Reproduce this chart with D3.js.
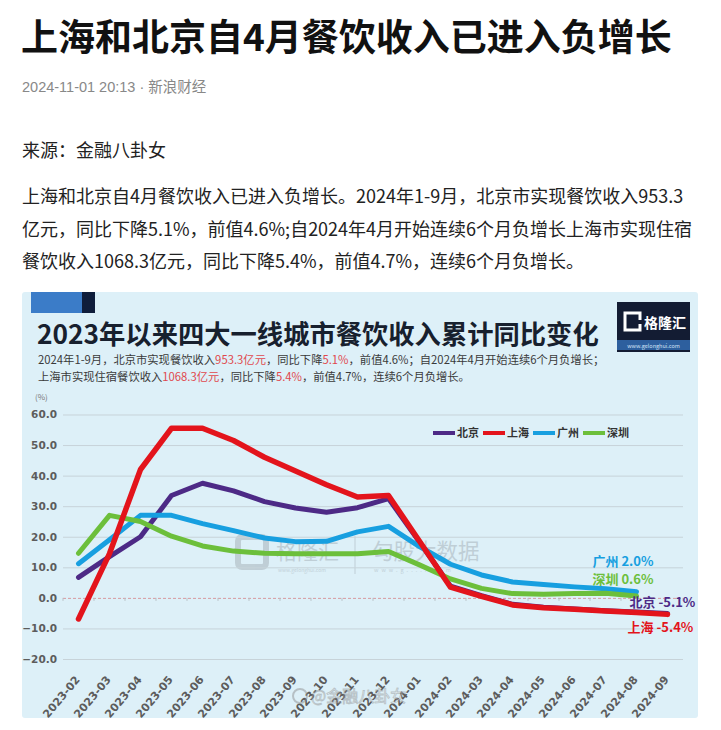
<!DOCTYPE html>
<html>
<head>
<meta charset="utf-8">
<script src="https://cdn.jsdelivr.net/npm/d3@7"></script>
<style>
  html, body { margin: 0; padding: 0; background: #fff; }
  svg { display: block; }
  text { font-family: "Noto Sans CJK SC", "Noto Sans", sans-serif; }
</style>
</head>
<body>
<svg id="page" width="721" height="730"></svg>
<script>
// ---------------- DATA ----------------
const months = ["2023-02","2023-03","2023-04","2023-05","2023-06","2023-07","2023-08","2023-09","2023-10","2023-11","2023-12",
                "2024-01","2024-02","2024-03","2024-04","2024-05","2024-06","2024-07","2024-08","2024-09"];
const seriesNames = ["北京","上海","广州","深圳"];
const beijing   = [6.7, 13.5, 20.0, 33.5, 37.5, 35.0, 31.5, 29.4, 28.0, 29.5, 32.5, 18.3, 3.8, 0.7, -2.1, -3.1, -3.6, -4.2, -4.6, -5.1];
const shanghai  = [-6.9, 14.5, 42.0, 55.5, 55.5, 51.5, 46.0, 41.5, 37.0, 33.0, 33.5, 18.5, 3.5, 0.5, -2.3, -3.2, -3.7, -4.3, -4.8, -5.4];
const guangzhou = [11.2, 19.0, 27.0, 27.0, 24.3, 22.0, 19.6, 18.4, 18.5, 21.6, 23.4, 16.8, 11.0, 7.5, 5.2, 4.4, 3.6, 3.0, 2.0];
const shenzhen  = [14.6, 27.0, 25.0, 20.2, 17.0, 15.3, 14.6, 14.4, 14.4, 14.4, 15.2, 10.8, 6.2, 3.1, 1.4, 1.2, 1.4, 1.5, 0.6];
const yTicks = [-20, -10, 0, 10, 20, 30, 40, 50, 60];
const endLabels = ["北京 -5.1%", "上海 -5.4%", "广州 2.0%", "深圳 0.6%"];

const pageTitle = "上海和北京自4月餐饮收入已进入负增长";
const pageMeta = "2024-11-01 20:13 · 新浪财经";
const pageSource = "来源：金融八卦女";
const paragraphLines = [
  "上海和北京自4月餐饮收入已进入负增长。2024年1-9月，北京市实现餐饮收入953.3",
  "亿元，同比下降5.1%，前值4.6%;自2024年4月开始连续6个月负增长上海市实现住宿",
  "餐饮收入1068.3亿元，同比下降5.4%，前值4.7%，连续6个月负增长。"
];
const chartTitle = "2023年以来四大一线城市餐饮收入累计同比变化";
const subtitle1 = [["2024年1-9月，北京市实现餐饮收入",0],["953.3亿元",1],["，同比下降",0],["5.1%",1],["，前值4.6%；自2024年4月开始连续6个月负增长；",0]];
const subtitle2 = [["上海市实现住宿餐饮收入",0],["1068.3亿元",1],["，同比下降",0],["5.4%",1],["，前值4.7%，连续6个月负增长。",0]];

// ---------------- STYLE / LAYOUT ----------------
const colors = ["#4d2a86", "#e3141c", "#179fe0", "#6cbf3b"];
const widths = [5, 5.5, 5, 5];
const drawOrder = [0, 2, 3, 1];
const labelOffsets = [[-38, -6], [-40, 18], [-44, -26], [-44, -12]];
const plot = {left: 63, right: 683, top: 414.5, bottom: 659};

const svg = d3.select("#page");

// ---------------- ARTICLE HEADER ----------------
svg.append("text").attr("x", 21).attr("y", 51)
  .attr("font-size", 37).attr("font-weight", 700).attr("fill", "#111").text(pageTitle);
svg.append("text").attr("x", 22).attr("y", 92)
  .attr("font-size", 14.5).attr("fill", "#888")
  .style("font-family", "'Liberation Sans','Noto Sans CJK SC',sans-serif").text(pageMeta);
svg.append("text").attr("x", 22).attr("y", 157)
  .attr("font-size", 18).attr("fill", "#222").text(pageSource);
paragraphLines.forEach((t, i) => {
  svg.append("text").attr("x", 22).attr("y", 203 + i * 32.5)
    .attr("font-size", 18).attr("fill", "#222").text(t);
});

// ---------------- CHART PANEL ----------------
svg.append("rect").attr("x", 22).attr("y", 292).attr("width", 676).attr("height", 426)
  .attr("rx", 3).attr("fill", "#ddf0f8");
svg.append("rect").attr("x", 31).attr("y", 292).attr("width", 51).attr("height", 21).attr("fill", "#3b7cc8");
svg.append("rect").attr("x", 82).attr("y", 292).attr("width", 13).attr("height", 21).attr("fill", "#0f1d3b");

// logo
const logo = svg.append("g").attr("transform", "translate(617,302)");
logo.append("rect").attr("width", 73).attr("height", 50).attr("fill", "#131c33");
logo.append("rect").attr("y", 38).attr("width", 73).attr("height", 10).attr("fill", "#2d5f9e");
logo.append("rect").attr("x", 8).attr("y", 11).attr("width", 15).attr("height", 17).attr("fill", "none")
  .attr("stroke", "#fff").attr("stroke-width", 3);
logo.append("rect").attr("x", 16).attr("y", 18).attr("width", 9).attr("height", 4).attr("fill", "#131c33");
logo.append("text").attr("x", 27).attr("y", 26).attr("font-size", 14).attr("font-weight", 700)
  .attr("fill", "#fff").text("格隆汇");
logo.append("text").attr("x", 36.5).attr("y", 45.5).attr("font-size", 5.5).attr("text-anchor", "middle")
  .attr("fill", "#cfe0f5").text("www.gelonghui.com");

svg.append("text").attr("x", 37).attr("y", 343.5).attr("font-size", 26.3).attr("font-weight", 700)
  .attr("fill", "#17202e").text(chartTitle);

function subtitle(parts, y) {
  const t = svg.append("text").attr("x", 38).attr("y", y).attr("font-size", 11.3).attr("fill", "#3a3a3a");
  parts.forEach(([s, red]) => t.append("tspan").attr("fill", red ? "#e0484d" : "#3a3a3a").text(s));
}
subtitle(subtitle1, 364);
subtitle(subtitle2, 381);

svg.append("text").attr("x", 35).attr("y", 400).attr("font-size", 8).attr("fill", "#777").text("(%)");

// ---------------- SCALES ----------------
const x = d3.scaleBand().domain(months).range([plot.left, plot.right]);
const cx = m => x(m) + x.bandwidth() / 2;
const y = d3.scaleLinear().domain([-20, 60]).range([plot.bottom, plot.top]);

// watermarks (behind lines)
const wm = svg.append("g").attr("opacity", 0.35).attr("fill", "#8a9298");
wm.append("rect").attr("x", 238).attr("y", 537).attr("width", 28).attr("height", 30).attr("rx", 4)
  .attr("fill", "none").attr("stroke", "#8a9298").attr("stroke-width", 6);
wm.append("text").attr("x", 276).attr("y", 559).attr("font-size", 21).text("格隆汇");
wm.append("text").attr("x", 278).attr("y", 572).attr("font-size", 5).text("www.gelonghui.com");
wm.append("line").attr("x1", 355).attr("x2", 355).attr("y1", 536).attr("y2", 574).attr("stroke", "#8a9298");
wm.append("text").attr("x", 372).attr("y", 559).attr("font-size", 21.5).text("勾股大数据");
wm.append("text").attr("x", 374).attr("y", 572).attr("font-size", 5.5).attr("letter-spacing", 3).text("www.g......com");

// ---------------- AXES ----------------
const yAxis = svg.append("g").attr("transform", `translate(${plot.left},0)`)
  .call(d3.axisLeft(y).tickValues(yTicks).tickFormat(d3.format(".1f"))
        .tickSize(-(plot.right - plot.left)).tickPadding(6));
yAxis.select(".domain").remove();
yAxis.selectAll(".tick line")
  .attr("stroke", d => d === 0 ? "#d79aa0" : "#c7d3d9")
  .attr("stroke-dasharray", d => d === 0 ? "3,2" : null);
yAxis.selectAll(".tick text")
  .attr("fill", "#5c5c5c").attr("font-size", 10.5).attr("font-weight", 700)
  .style("font-family", "'DejaVu Sans',sans-serif");

// small ticks along zero line at band edges
svg.append("g").selectAll("line").data(months.concat(["end"])).join("line")
  .attr("x1", (d, i) => plot.left + i * x.step()).attr("x2", (d, i) => plot.left + i * x.step())
  .attr("y1", y(0)).attr("y2", y(0) + 3).attr("stroke", "#b9c2c7");

const xAxis = svg.append("g").attr("transform", `translate(0,${plot.bottom})`)
  .call(d3.axisBottom(x).tickSize(0).tickPadding(0));
xAxis.select(".domain").remove();
xAxis.selectAll(".tick text")
  .attr("x", 0).attr("y", 0).attr("dy", 0)
  .attr("text-anchor", "end")
  .attr("transform", "translate(2,21) rotate(-50)")
  .attr("fill", "#5c5c5c").attr("font-size", 11).attr("font-weight", 700)
  .style("font-family", "'DejaVu Sans',sans-serif");

// ---------------- LINES ----------------
const allSeries = [beijing, shanghai, guangzhou, shenzhen];
const line = d3.line().x(d => cx(d.m)).y(d => y(d.v));
drawOrder.forEach(i => {
  const pts = allSeries[i].map((v, j) => ({m: months[j], v}));
  svg.append("path").datum(pts).attr("d", line)
    .attr("fill", "none").attr("stroke", colors[i]).attr("stroke-width", widths[i])
    .attr("stroke-linejoin", "round").attr("stroke-linecap", "round");
});

// end labels
allSeries.forEach((s, i) => {
  const last = s.length - 1;
  svg.append("text")
    .attr("x", cx(months[last]) + labelOffsets[i][0])
    .attr("y", y(s[last]) + labelOffsets[i][1])
    .attr("font-size", 13).attr("font-weight", 700).attr("fill", colors[i])
    .text(endLabels[i]);
});

// ---------------- LEGEND ----------------
const legend = svg.append("g").attr("transform", "translate(433,433)");
seriesNames.forEach((n, i) => {
  const g = legend.append("g").attr("transform", `translate(${i * 50},0)`);
  g.append("line").attr("x1", 0).attr("x2", 22).attr("y1", 0).attr("y2", 0)
    .attr("stroke", colors[i]).attr("stroke-width", 4);
  g.append("text").attr("x", 24).attr("y", 4).attr("font-size", 11).attr("font-weight", 700)
    .attr("fill", "#333").text(n);
});

// weibo watermark
const wb = svg.append("g").attr("opacity", 0.45);
wb.append("circle").attr("cx", 300).attr("cy", 696).attr("r", 7).attr("fill", "none")
  .attr("stroke", "#888").attr("stroke-width", 2);
wb.append("text").attr("x", 311).attr("y", 702).attr("font-size", 16).attr("fill", "#fff")
  .attr("stroke", "#888").attr("stroke-width", 0.8).text("@金融八卦女");
</script>
</body>
</html>
